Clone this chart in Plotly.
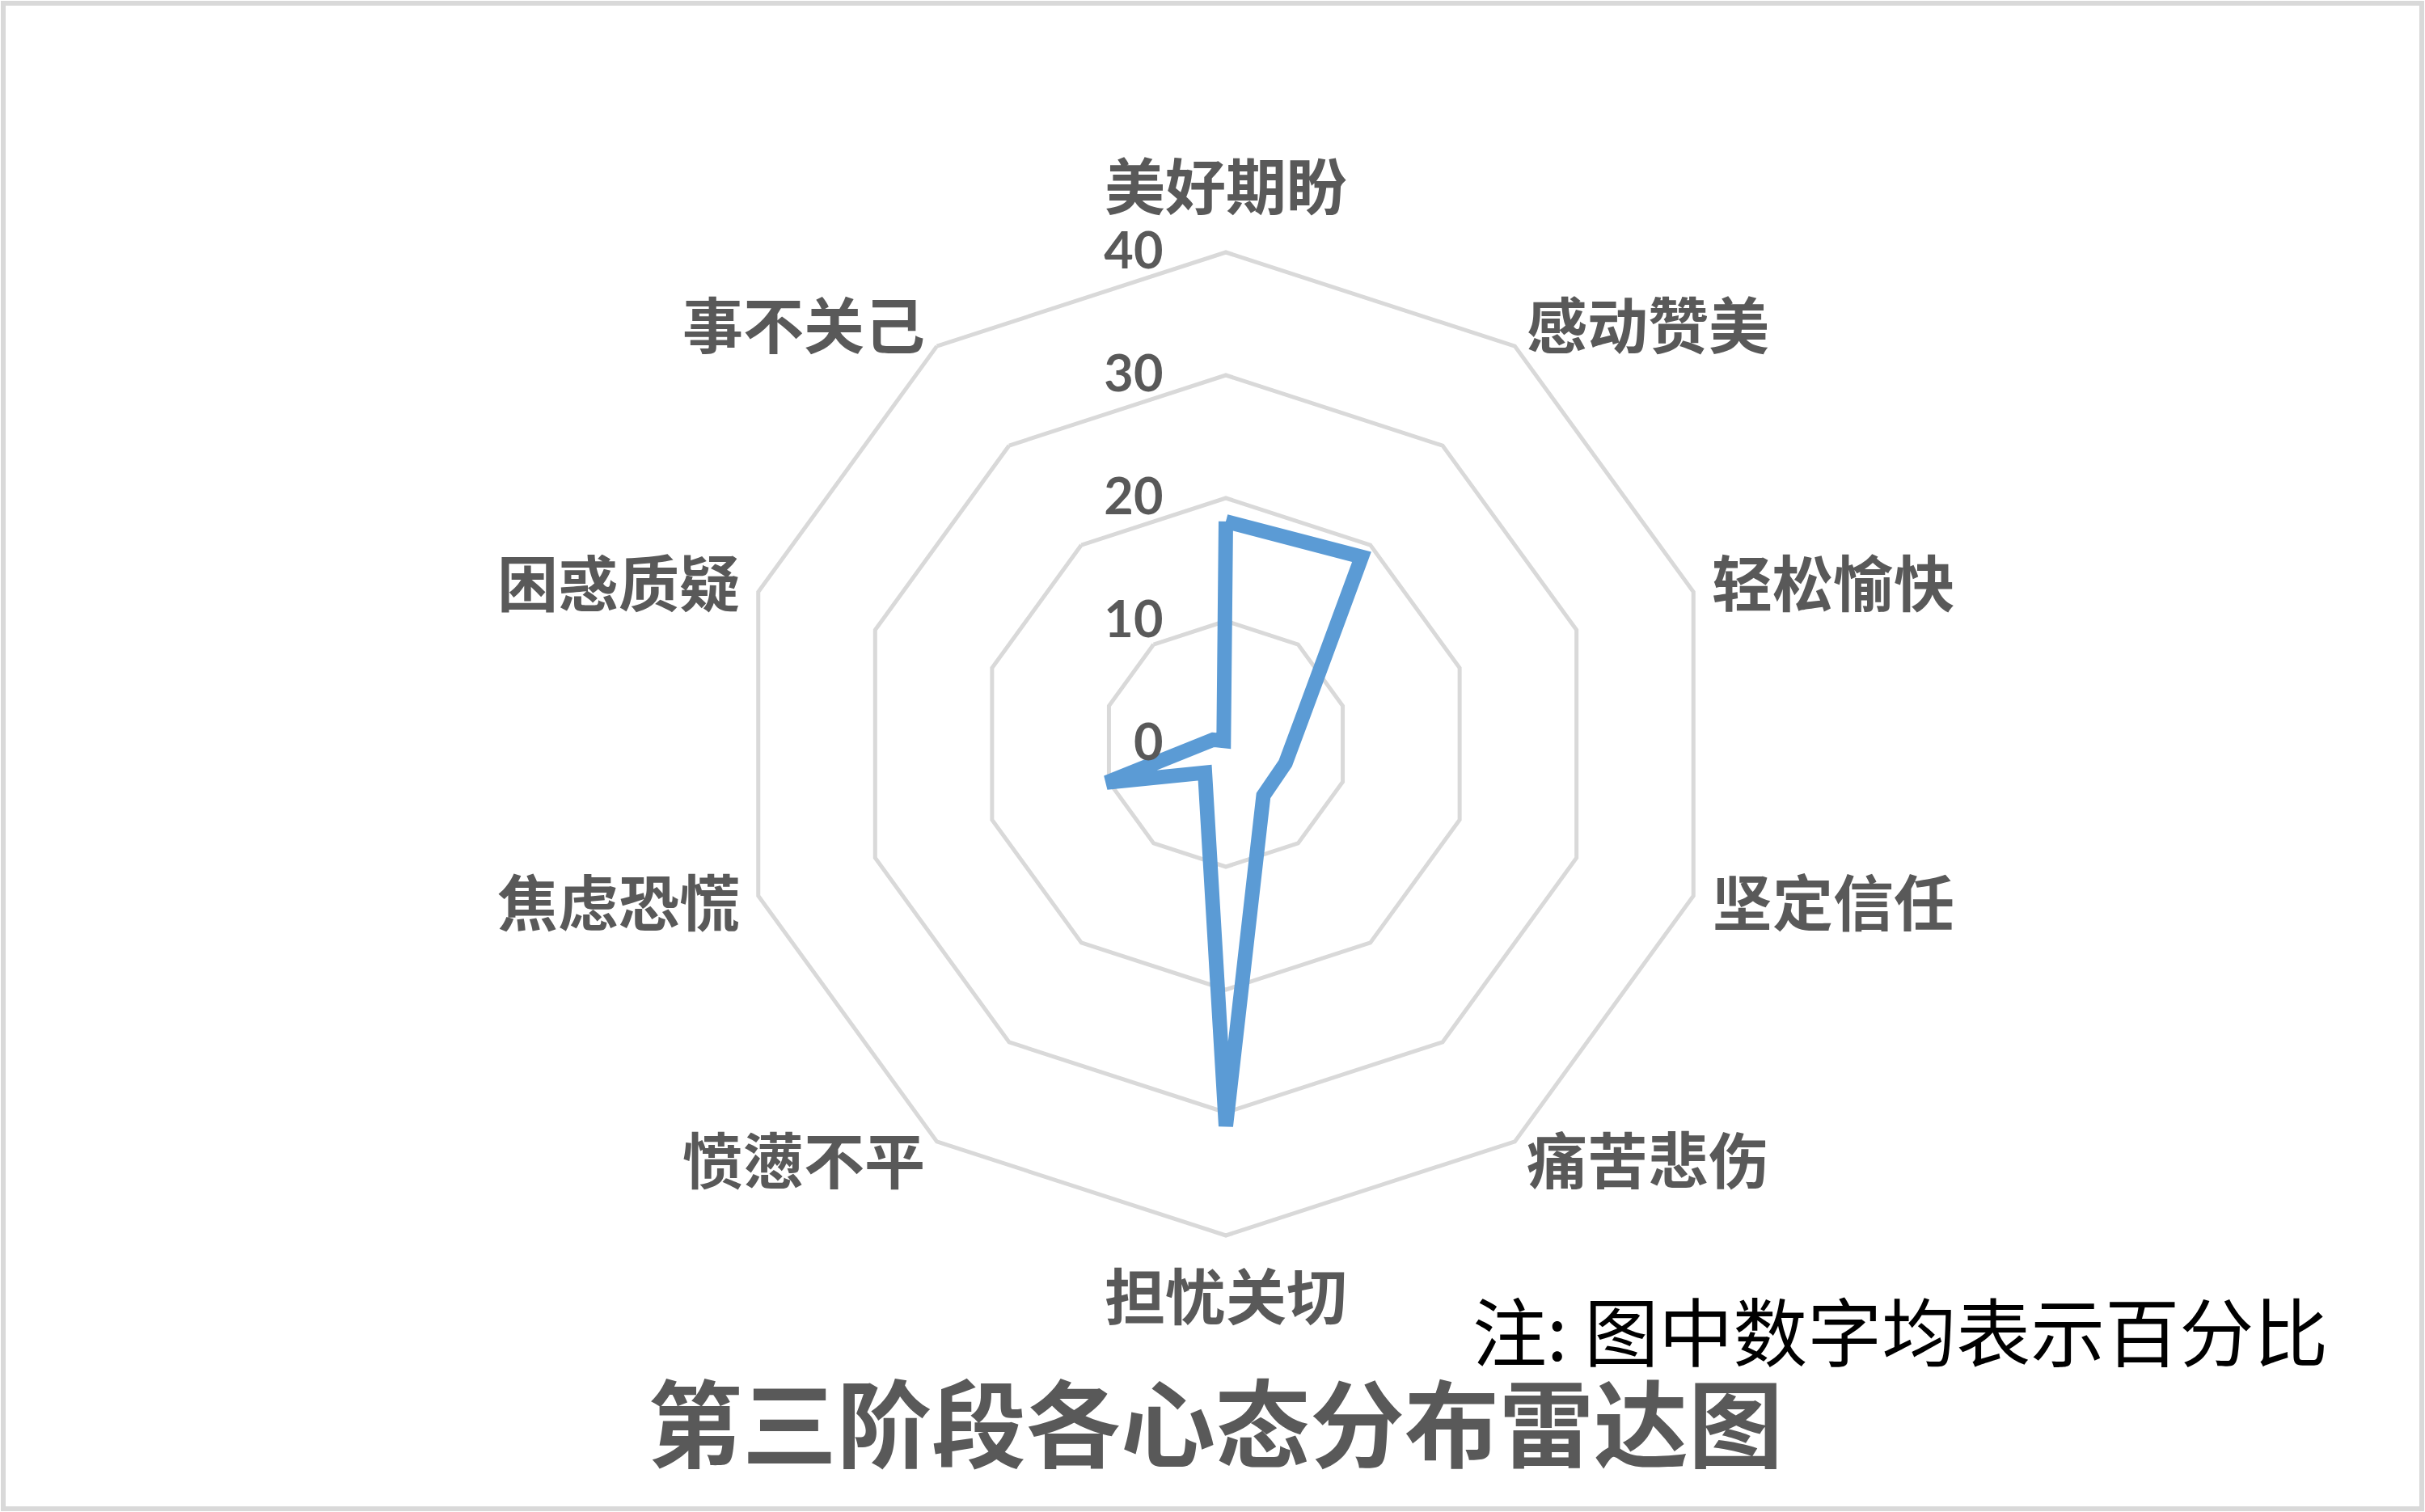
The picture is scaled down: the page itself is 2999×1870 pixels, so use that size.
import math
import plotly.graph_objects as go

categories = ["美好期盼", "感动赞美", "轻松愉快", "坚定信任", "痛苦悲伤",
              "担忧关切", "愤懑不平", "焦虑恐慌", "困惑质疑", "事不关己"]
values = [18.1, 18.8, 6.5, 5.1, 5.2, 31.1, 2.9, 10.2, 1.1, 0.3]
radial_ticks = [0, 10, 20, 30, 40]
title_text = "第三阶段各心态分布雷达图"
note_text = "注: 图中数字均表示百分比"

W, H = 2999, 1870
cx, cy, R = 1516, 920, 608       # polar domain centre / radius in px
lab_cx, lab_cy = 1516, 915        # reference point used for category labels
gray = "#595959"

fig = go.Figure()
fig.add_trace(go.Scatterpolar(
    r=values + values[:1],
    theta=categories + categories[:1],
    mode="lines",
    line=dict(color="#5b9bd5", width=18),
    showlegend=False,
    hoverinfo="skip",
))

# category labels placed just outside the polygon vertices (Excel-like)
annotations = []
rpad, vpad = 22, 30
n = len(categories)
for i, name in enumerate(categories):
    ang = 2 * math.pi * i / n
    s, c = math.sin(ang), math.cos(ang)
    vy = lab_cy - R * c
    if abs(s) < 0.1:
        x = lab_cx
        y = vy - 80 if c > 0 else vy + 76
        xa = "center"
    else:
        x = lab_cx + (R + rpad) * s
        y = vy - vpad * c
        xa = "left" if s > 0 else "right"
    annotations.append(dict(
        text=name, x=x / W, y=1 - y / H, xref="paper", yref="paper",
        xanchor=xa, yanchor="middle", showarrow=False,
        font=dict(family="Noto Sans CJK SC", size=75, color=gray, weight="bold"),
    ))

annotations.append(dict(
    text=note_text,
    x=2350 / W, y=(H - 1642) / H,
    xref="paper", yref="paper",
    xanchor="center", yanchor="middle",
    showarrow=False,
    font=dict(family="Noto Sans CJK SC", size=92, color="black"),
))

fig.update_layout(
    width=W, height=H,
    margin=dict(l=0, r=0, t=0, b=0),
    paper_bgcolor="white",
    plot_bgcolor="white",
    showlegend=False,
    polar=dict(
        domain=dict(x=[(cx - R) / W, (cx + R) / W],
                    y=[(H - cy - R) / H, (H - cy + R) / H]),
        bgcolor="white",
        gridshape="linear",
        radialaxis=dict(
            range=[0, 40],
            tickvals=radial_ticks,
            ticktext=["<b>%d</b>" % v for v in radial_ticks],
            angle=90,
            tickangle=90,
            side="counterclockwise",
            showline=False,
            gridcolor="#d9d9d9",
            gridwidth=5,
            ticks="outside",
            ticklen=55,
            tickcolor="rgba(0,0,0,0)",
            tickfont=dict(family="Lato", size=63, color=gray),
        ),
        angularaxis=dict(
            categoryorder="array",
            categoryarray=categories,
            direction="clockwise",
            rotation=90,
            showgrid=False,
            showline=True,
            linecolor="#d9d9d9",
            linewidth=5,
            ticks="",
            showticklabels=False,
        ),
    ),
    title=dict(
        text=title_text,
        x=1503 / W, xanchor="center",
        y=(H - 1765) / H, yanchor="middle",
        yref="container", xref="container",
        font=dict(family="Noto Sans CJK SC", size=117, color=gray, weight="bold"),
    ),
    annotations=annotations,
    shapes=[dict(
        type="rect", xref="paper", yref="paper",
        x0=4 / W, x1=(W - 4) / W, y0=4 / H, y1=(H - 4) / H,
        line=dict(color="#d9d9d9", width=6),
        fillcolor="rgba(0,0,0,0)",
        layer="below",
    )],
)

fig.write_html(
    "out.html",
    config={"displayModeBar": False},
    post_script="document.body.style.margin='0';document.body.style.overflow='hidden';",
)
